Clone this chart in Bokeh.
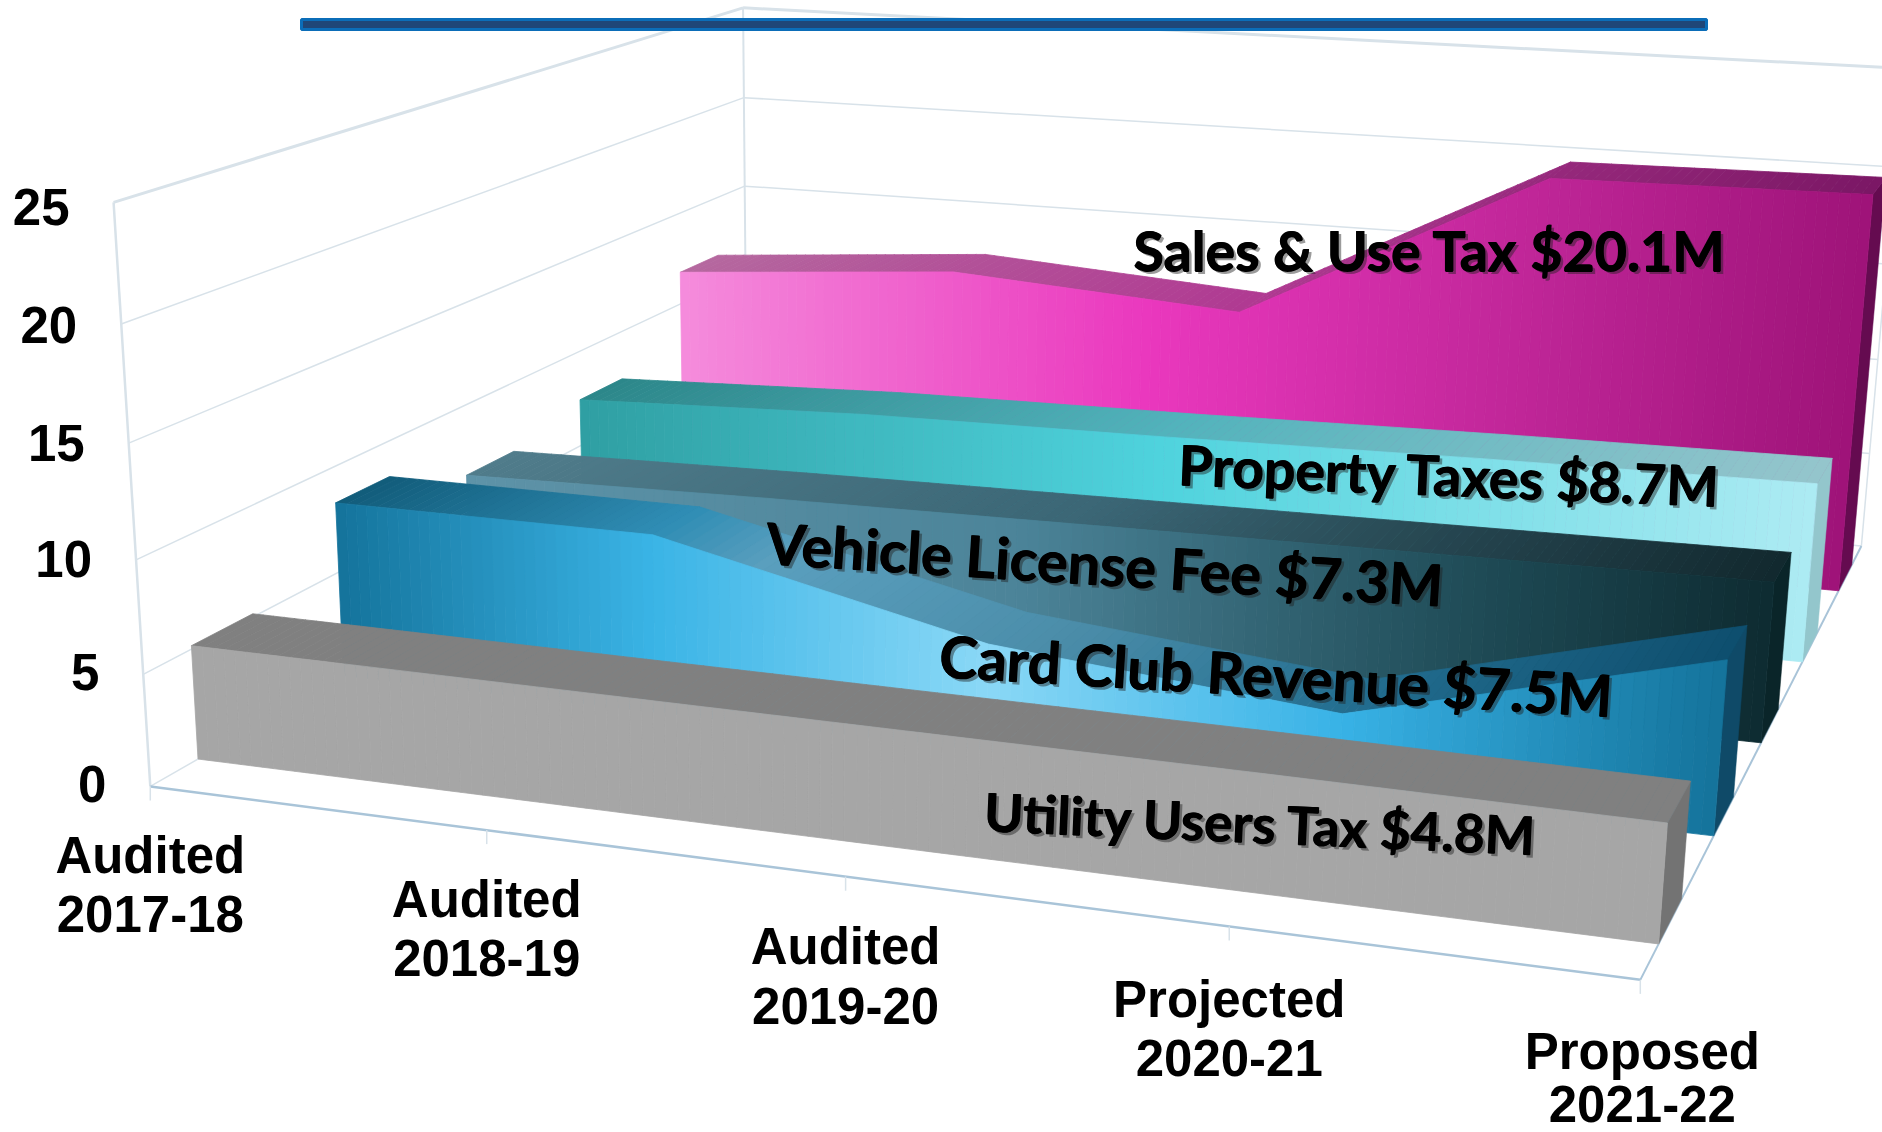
import numpy as np
from bokeh.plotting import figure
from bokeh.models import Range1d
from bokeh.core.properties import value
from bokeh.embed import file_html
from bokeh.resources import INLINE

# ---- data ----
categories = [("Audited", "2017-18"), ("Audited", "2018-19"), ("Audited", "2019-20"),
              ("Projected", "2020-21"), ("Proposed", "2021-22")]
value_ticks = [0, 5, 10, 15, 20, 25]
utility = [5.15, 5.1, 5.05, 5.0, 4.9]
card_club = [8.3, 8.3, 4.9, 3.5, 7.6]
vehicle = [6.5, 6.8, 7.0, 7.2, 7.4]
property_tax = [7.45, 8.0, 8.2, 8.5, 8.7]
sales = [11.75, 12.9, 11.9, 19.9, 20.1]
label_utility = "Utility Users Tax $4.8M"
label_card = "Card Club Revenue $7.5M"
label_vehicle = "Vehicle License Fee $7.3M"
label_property = "Property Taxes $8.7M"
label_sales = "Sales & Use Tax $20.1M"

# ---- 3-D view: camera fitted to the chart box (category, value, depth -> page pixel) ----
view_world = np.array([(0,0,0),(1,0,0),(2,0,0),(3,0,0),(4,0,0),(0,25,0),(0,25,1),(0,0,1),(4,25,1),(4,0,1)], float)
view_page = np.array([(150,784),(484,829),(844,876),(1228,927),(1643,978),(114,205),(742,4),(748,446),(1903,69),(1860,545)], float)

def fit_camera(w, s):
    rows, rhs = [], []
    for (x, y, z), (u, v) in zip(w, s):
        rows.append([x, y, z, 1, 0, 0, 0, 0, -u*x, -u*y, -u*z]); rhs.append(u)
        rows.append([0, 0, 0, 0, x, y, z, 1, -v*x, -v*y, -v*z]); rhs.append(v)
    m = np.linalg.lstsq(np.array(rows), np.array(rhs), rcond=None)[0]
    return np.append(m, 1).reshape(3, 4)

CAM = fit_camera(view_world, view_page)

def proj(x, v, z):
    h = CAM @ np.array([x, v, z, 1.0])
    return h[0]/h[2], h[1]/h[2]

def hex2rgb(c):
    return np.array([int(c[i:i+2], 16) for i in (1, 3, 5)], float)

def ramp(stops, t):
    ts = [s[0] for s in stops]
    rgb = [np.interp(t, ts, [hex2rgb(s[1])[k] for s in stops]) for k in range(3)]
    return "#%02x%02x%02x" % tuple(int(round(c)) for c in rgb)

W, H = 1882, 1132
p = figure(width=W, height=H, output_backend="svg", toolbar_location=None,
           x_range=Range1d(0, W), y_range=Range1d(H, 0), min_border=0)
p.axis.visible = False
p.grid.visible = False
p.outline_line_color = None
p.background_fill_color = "white"
p.border_fill_color = "white"

WALL = "#d8e2e9"
EDGE = "#a9c4d8"

def seg(a, b, color=WALL, width=1.5):
    pa, pb = proj(*a), proj(*b)
    p.line([pa[0], pb[0]], [pa[1], pb[1]], line_color=color, line_width=width)

n_cat = len(categories) - 1
top = value_ticks[-1]
for v in value_ticks:
    w = 3 if v == top else 1.5
    seg((0, v, 0), (0, v, 1), width=w)
    seg((0, v, 1), (n_cat, v, 1), width=w if v == top else 1.5)
seg((0, 0, 0), (0, top, 0), width=2.5)
seg((0, 0, 1), (0, top, 1), width=2)
seg((n_cat, 0, 1), (n_cat, top, 1), width=1.5)
seg((0, 0, 0), (n_cat, 0, 0), color=EDGE, width=2.5)
seg((n_cat, 0, 0), (n_cat, 0, 1), color=EDGE, width=2)
for i in range(n_cat+1):
    px, py = proj(i, 0, 0)
    p.line([px, px], [py, py+14], line_color=WALL, line_width=1.5)


def band(vals, z0, z1, front_stops, top_stops, side):
    steps = 120
    xs = np.linspace(0, n_cat, steps+1)
    tops = np.interp(xs, np.arange(n_cat+1), vals)
    fx, fy, fc, tx, ty, tc = [], [], [], [], [], []
    for i in range(steps):
        t = (i+0.5)/steps
        a, b = xs[i], xs[i+1]
        va, vb = tops[i], tops[i+1]
        q = [proj(a, va, z0), proj(b, vb, z0), proj(b, vb, z1), proj(a, va, z1)]
        tx.append([c[0] for c in q]); ty.append([c[1] for c in q]); tc.append(ramp(top_stops, t))
        q = [proj(a, 0, z0), proj(b, 0, z0), proj(b, vb, z0), proj(a, va, z0)]
        fx.append([c[0] for c in q]); fy.append([c[1] for c in q]); fc.append(ramp(front_stops, t))
    q = [proj(n_cat, 0, z0), proj(n_cat, 0, z1), proj(n_cat, vals[-1], z1), proj(n_cat, vals[-1], z0)]
    p.patch([c[0] for c in q], [c[1] for c in q], fill_color=side, line_color=side, line_width=0.5)
    p.patches(tx, ty, fill_color=tc, line_color=tc, line_width=0.8)
    p.patches(fx, fy, fill_color=fc, line_color=fc, line_width=0.8)

slot, inset, depth = 0.2, 0.06, 0.08
def zr(i):
    return inset + slot*i, inset + slot*i + depth

band(sales, *zr(4),
     [(0, "#f58cdc"), (.42, "#ea38be"), (.75, "#be2597"), (1, "#9e1378")],
     [(0, "#b5689f"), (.5, "#b03a92"), (1, "#7b1765")], "#650b50")
band(property_tax, *zr(3),
     [(0, "#2f9fa3"), (.5, "#4fd3dd"), (1, "#adebf3")],
     [(0, "#2c878a"), (.5, "#52b3bc"), (1, "#95c5cc")], "#93c6cc")
band(vehicle, *zr(2),
     [(0, "#5e93a8"), (.45, "#4c8499"), (.8, "#1e4a55"), (1, "#0e2b31")],
     [(0, "#507c8b"), (.5, "#3b6675"), (1, "#12282e")], "#0a2529")
band(card_club, *zr(1),
     [(0, "#14739b"), (.25, "#3ab4e6"), (.5, "#8ad8f6"), (.75, "#38b2e6"), (1, "#14739b")],
     [(0, "#125c7a"), (.25, "#2f8db5"), (.33, "#5a9fbe"), (.55, "#4a8ca8"), (.75, "#236e90"), (1, "#0e4e6e")], "#0f4a68")
band(utility, *zr(0),
     [(0, "#a6a6a6"), (1, "#a6a6a6")], [(0, "#808080"), (1, "#808080")], "#737373")

# decorative rule at the top
p.quad(left=[301], right=[1706], top=[19], bottom=[29], fill_color="#1f4677", line_color="#0b6db8", line_width=3)

# value labels
tick_nudge = [-2, -2, -1, 0, 1.5, 5]
for v, nudge in zip(value_ticks, tick_nudge):
    x, y = proj(0, v, 0)
    p.text([x-44], [y+nudge], text=[str(v)], text_font=value("Liberation Sans"), text_font_style="bold",
           text_font_size="51px", text_color="black", text_align="right", text_baseline="alphabetic")

# category labels
cat_dy = [(69, 128), (69, 128), (70, 129), (73, 131), (72, 124)]
for i, ((a, b), (d1, d2)) in enumerate(zip(categories, cat_dy)):
    x, y = proj(i, 0, 0)
    x = x + (2 if i == n_cat else 0)
    for line, dy in ((a, d1), (b, d2)):
        p.text([x], [y+dy], text=[line], text_font=value("Liberation Sans"), text_font_style="bold",
               text_font_size="51px", text_color="black", text_align="center", text_baseline="alphabetic")

# series labels
labels = [(label_sales, 1133, 249, 0.0, 55.5), (label_property, 1178, 463, -2.3, 55.5),
          (label_vehicle, 766, 541, -3.6, 57.5), (label_card, 939, 654, -3.4, 58), (label_utility, 984, 810, -2.5, 53)]
for txt, x, y, deg, fs in labels:
    ang = np.radians(deg)
    for dx, dy, col, al in ((3, 3, "#222222", 0.45), (-0.5, 0, "black", 1.0), (0.5, 0, "black", 1.0), (0, 0.5, "black", 1.0)):
        p.text([x+dx], [y+dy], text=[txt], angle=ang, text_font=value("Lato"), text_font_style="bold",
               text_font_size=f"{fs}px", text_color=col, text_alpha=al, text_align="left", text_baseline="alphabetic")

open("out.html", "w").write(file_html(p, INLINE))
